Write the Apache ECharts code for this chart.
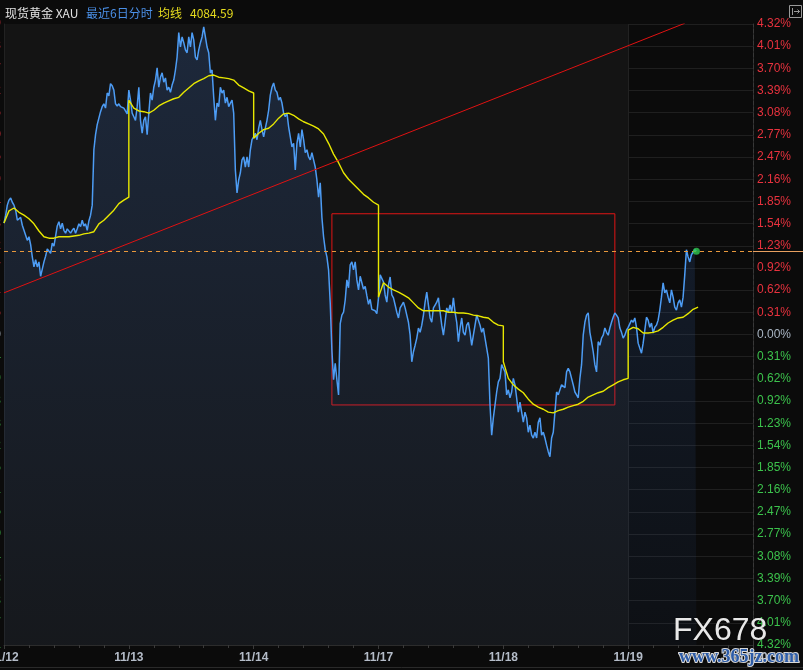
<!DOCTYPE html>
<html>
<head>
<meta charset="utf-8">
<script src="https://cdn.jsdelivr.net/npm/echarts@6.0.0/dist/echarts.min.js"></script>
<style>
html,body{margin:0;padding:0;background:#0b0b0b;overflow:hidden;}
#chart{width:803px;height:670px;}
</style>
</head>
<body>
<div id="chart"></div>
<script>
// ---------------- data ----------------
const dayLabels = ['11/12','11/13','11/14','11/17','11/18','11/19','11/20'];
const yTickLabels = ['4.32%','4.01%','3.70%','3.39%','3.08%','2.77%','2.47%','2.16%','1.85%','1.54%','1.23%','0.92%','0.62%','0.31%','0.00%','0.31%','0.62%','0.92%','1.23%','1.54%','1.85%','2.16%','2.47%','2.77%','3.08%','3.39%','3.70%','4.01%','4.32%'];
const basePrice = 4069.1;
const avgLastValue = '4084.59';
const titleName = '现货黄金 XAU';
const titlePeriod = '最近6日分时';
const titleAvg = '均线';

// percent change vs base, per day (minute line, sampled)
const price1112 = [1.55,1.66,1.80,1.87,1.90,1.84,1.80,1.73,1.59,1.57,
 1.63,1.52,1.45,1.38,1.31,1.36,1.25,1.08,0.94,1.04,
 0.94,1.01,0.81,0.91,1.01,1.09,1.19,1.18,1.13,1.27,
 1.23,1.37,1.51,1.57,1.47,1.55,1.45,1.41,1.47,1.48,
 1.41,1.45,1.48,1.41,1.47,1.54,1.50,1.59,1.51,1.54,
 1.45,1.58,1.66,1.80,2.57,2.78,2.92,3.01,3.10,3.17,
 3.21,3.15,3.36,3.32,3.49,3.46,3.40,3.21,3.18,3.21,
 3.17,3.19,3.15,3.15,3.07];
const price1113 = [3.40,3.26,3.08,3.03,2.98,3.17,3.44,2.98,2.80,2.98,
 3.03,2.78,3.08,3.36,3.26,3.44,3.54,3.71,3.44,3.58,
 3.64,3.51,3.57,3.40,3.44,3.37,3.47,3.54,3.68,3.86,
 4.20,4.00,4.14,4.06,3.96,3.92,4.14,4.00,4.20,4.10,
 3.86,3.82,3.96,4.06,4.14,4.28,4.14,4.00,3.92,3.64,
 3.68,3.30,2.98,3.22,3.17,3.44,3.36,3.40,3.22,3.30,
 3.17,3.22,3.26,3.08,2.29,1.97,2.15,2.25,2.43,2.47,
 2.33,2.47,2.33,2.57,2.71];
const price1114 = [2.75,2.80,2.71,2.87,2.98,2.85,2.75,2.87,2.98,3.12,
 3.33,3.44,3.50,3.40,3.37,3.26,3.30,3.22,3.08,3.03,
 3.08,2.89,2.75,2.61,2.66,2.29,2.66,2.80,2.61,2.85,
 2.71,2.53,2.57,2.47,2.43,2.53,2.43,2.33,2.15,1.91,
 2.11,1.63,1.36,1.18,1.08,0.90,0.44,-0.22,-0.63,-0.40,
 -0.63,-0.84,0.15,0.27,0.31,0.48,0.76,0.65,0.97,1.01,
 0.90,1.01,0.76,0.62,0.81,0.79,0.63,0.67,0.54,0.42,
 0.49,0.35,0.35,0.33,0.29];
const price1117 = [0.51,0.83,0.83,0.73,0.55,0.45,0.69,0.80,0.55,0.51,
 0.41,0.31,0.23,0.37,0.41,0.45,0.37,0.27,0.17,-0.01,
 -0.38,-0.24,-0.15,-0.05,0.09,0.03,0.13,0.27,0.45,0.59,
 0.41,0.23,0.17,0.37,0.41,0.45,0.51,0.31,0.13,-0.01,
 0.17,0.37,0.31,0.41,0.31,0.51,0.31,0.17,-0.10,0.09,
 0.23,0.03,-0.01,0.13,0.17,0.03,-0.15,-0.01,0.13,0.27,
 0.20,0.13,0.03,0.09,-0.05,-0.19,-0.33,-0.98,-1.40,-1.16,
 -1.16,-0.80,-0.66,-0.61,-0.42];
const price1118 = [-0.47,-0.52,-0.84,-0.77,-0.88,-0.80,-0.61,-0.70,-0.88,-1.08,
 -0.94,-1.08,-1.22,-1.08,-1.16,-1.36,-1.26,-1.40,-1.44,-1.36,
 -1.44,-1.22,-1.16,-1.40,-1.36,-1.44,-1.54,-1.63,-1.70,-1.44,
 -1.36,-1.08,-0.80,-0.84,-0.84,-0.70,-0.70,-0.74,-0.52,-0.47,
 -0.52,-0.61,-0.70,-0.80,-0.84,-0.88,-0.61,-0.42,-0.01,0.17,
 0.27,0.30,0.03,-0.10,-0.24,-0.42,-0.52,-0.10,-0.15,-0.05,
 -0.01,0.09,0.03,-0.01,0.09,0.17,0.24,0.30,0.27,0.23,
 0.09,0.03,-0.05,-0.01,0.06];
const price1119 = [0.10,0.09,0.20,0.17,0.23,0.10,-0.12,-0.10,-0.26,-0.12,
 0.06,0.24,0.20,0.10,0.16,0.02,0.10,0.13,0.20,0.34,
 0.52,0.72,0.58,0.62,0.52,0.44,0.62,0.52,0.38,0.34,
 0.44,0.48,0.38,0.52,0.83,1.18,1.08,1.01,1.11,1.13,
 1.18,1.16];

// daily average line (percent), sampled every 3 minute-slots
const avg1112 = [1.55,1.72,1.76,1.70,1.66,1.61,1.54,1.44,1.36,1.34,1.34,1.36,1.36,1.36,1.37,1.38,1.40,1.41,1.43,1.54,1.59,1.66,1.73,1.82,1.87,1.91];
const avg1113 = [3.26,3.15,3.11,3.10,3.08,3.12,3.18,3.22,3.25,3.28,3.30,3.37,3.43,3.49,3.53,3.56,3.60,3.61,3.58,3.57,3.56,3.54,3.47,3.43,3.39,3.36];
const avg1114 = [2.73,2.80,2.85,2.87,2.93,3.01,3.07,3.08,3.05,3.00,2.96,2.93,2.90,2.86,2.79,2.66,2.51,2.39,2.25,2.16,2.09,2.02,1.95,1.90,1.84,1.80];
const avg1117 = [0.52,0.72,0.66,0.62,0.59,0.55,0.51,0.44,0.37,0.33,0.33,0.33,0.33,0.33,0.31,0.31,0.30,0.30,0.29,0.27,0.26,0.24,0.23,0.17,0.13,0.12];
const avg1118 = [-0.38,-0.61,-0.70,-0.76,-0.81,-0.90,-0.97,-1.01,-1.04,-1.08,-1.09,-1.06,-1.04,-1.01,-0.99,-0.97,-0.93,-0.87,-0.84,-0.81,-0.79,-0.74,-0.70,-0.66,-0.63,-0.61];
const avg1119 = [0.06,0.10,0.08,0.02,0.02,0.03,0.05,0.10,0.16,0.20,0.23,0.24,0.29,0.35,0.38];

// drawn annotations, in data units [slot, percent]
const trendLine = [[0,0.58],[409,4.33]];
const boxArea = [[197,1.68],[367,-0.98]];

// ---------------- build ----------------
const POINTS_PER_DAY = 75;
const AVG_STEP = 3;
const priceDays = [price1112, price1113, price1114, price1117, price1118, price1119];
const avgDays = [avg1112, avg1113, avg1114, avg1117, avg1118, avg1119];
const blueData = [];
priceDays.forEach((arr, d) => arr.forEach((v, i) => blueData.push([d * POINTS_PER_DAY + i, v])));
const avgData = [];
avgDays.forEach((arr, d) => arr.forEach((v, i) => avgData.push([d * POINTS_PER_DAY + i * AVG_STEP, v])));
const lastPoint = blueData[blueData.length - 1];

const Y_MAX = 4.32, Y_MIN = -4.32, Y_STEP = 4.32 / 14;
const X_MAX = POINTS_PER_DAY * (dayLabels.length - 1);
const CUR_DAY_START = POINTS_PER_DAY * (dayLabels.length - 2);

function tickIdx(v) { return Math.round((Number(v) - Y_MIN) / Y_STEP); }
function tickColor(v) { const k = tickIdx(v); return k > 14 ? '#e8323e' : (k < 14 ? '#3cc24c' : '#aab6c4'); }

const chart = echarts.init(document.getElementById('chart'), null, {width: 803, height: 670});

const option = {
  animation: false,
  backgroundColor: '#0b0b0b',
  grid: {left: 4, right: 50, top: 24, bottom: 25, containLabel: false, outerBoundsMode: 'none'},
  xAxis: {
    type: 'value', min: 0, max: X_MAX, interval: POINTS_PER_DAY, z: 1,
    axisLine: {show: true, onZero: false, lineStyle: {color: '#2c2c2c'}},
    axisTick: {show: true, length: 4, lineStyle: {color: '#3a3a3a'}},
    minorTick: {show: true, splitNumber: 5, length: 3, lineStyle: {color: '#3a3a3a'}},
    splitLine: {show: true, lineStyle: {color: '#262626', width: 1}},
    minorSplitLine: {show: false},
    axisLabel: {
      show: true, showMinLabel: true, showMaxLabel: true, margin: 7,
      color: '#b4bcc8', fontSize: 12, fontWeight: 'bold', fontFamily: '"Liberation Sans", Arial, sans-serif',
      formatter: v => dayLabels[Math.round(v / POINTS_PER_DAY)]
    }
  },
  yAxis: [{
    type: 'value', position: 'right', min: Y_MIN, max: Y_MAX, interval: Y_STEP, z: 1,
    axisLine: {show: true, onZero: false, lineStyle: {color: '#383838', type: 'dashed'}},
    axisTick: {show: false},
    splitLine: {show: true, lineStyle: {color: '#1f1f1f', width: 1}},
    axisLabel: {
      show: true, showMinLabel: true, showMaxLabel: true, margin: 4, fontSize: 12,
      fontFamily: '"Liberation Sans", Arial, sans-serif',
      color: v => tickColor(v),
      formatter: v => yTickLabels[tickIdx(v)]
    }
  }, {
    type: 'value', position: 'left', min: Y_MIN, max: Y_MAX, interval: Y_STEP, z: 1,
    axisLine: {show: true, onZero: false, lineStyle: {color: '#222'}},
    axisTick: {show: false},
    splitLine: {show: false},
    axisLabel: {
      show: true, margin: 3, fontSize: 12,
      fontFamily: '"Liberation Sans", Arial, sans-serif',
      color: v => tickColor(v),
      formatter: v => (basePrice * (1 + Number(v) / 100)).toFixed(2)
    }
  }],
  series: [
    {
      name: 'bg', type: 'line', z: 0, silent: true, data: [[0, 0]], showSymbol: false,
      lineStyle: {opacity: 0},
      markArea: {silent: true, itemStyle: {color: '#141414'}, label: {show: false},
        data: [[{xAxis: 0}, {xAxis: CUR_DAY_START}]]}
    },
    {
      name: 'price', type: 'line', z: 2, data: blueData, showSymbol: false, symbol: 'none',
      sampling: null, silent: true,
      lineStyle: {color: '#4d9cf4', width: 1.5},
      areaStyle: {origin: 'start', color: new echarts.graphic.LinearGradient(0, 0, 0, 1, [
        {offset: 0, color: 'rgba(55,100,175,0.36)'},
        {offset: 1, color: 'rgba(55,100,175,0.08)'}
      ])}
    },
    {
      name: 'avg', type: 'line', z: 3, data: avgData, showSymbol: false, symbol: 'none', silent: true,
      lineStyle: {color: '#e8e800', width: 1.4}
    },
    {
      name: 'trend', type: 'line', z: 4, data: trendLine, showSymbol: false, symbol: 'none', silent: true,
      lineStyle: {color: '#e01212', width: 1},
      markArea: {silent: true, label: {show: false},
        itemStyle: {color: 'rgba(0,0,0,0)', borderColor: '#e01515', borderWidth: 1},
        data: [[{coord: boxArea[0]}, {coord: boxArea[1]}]]}
    },
    {
      name: 'last', type: 'scatter', z: 6, data: [lastPoint], symbolSize: 7, silent: true,
      itemStyle: {color: '#30c850'}
    }
  ]
};
chart.setOption(option);

const xLeft = chart.convertToPixel({xAxisIndex: 0}, 0);
const xRight = chart.convertToPixel({xAxisIndex: 0}, X_MAX);
const yLast = Math.round(chart.convertToPixel({yAxisIndex: 0}, lastPoint[1])) + 0.5;

chart.setOption({
  graphic: [
    {type: 'text', id: 't1', x: 5, y: 13, z: 50, style: {text: titleName, fill: '#e2e2e2', font: '12px "Noto Sans CJK SC", sans-serif', verticalAlign: 'middle'}},
    {type: 'text', id: 't2', x: 86, y: 13, z: 50, style: {text: titlePeriod, fill: '#4a8fe6', font: '12px "Noto Sans CJK SC", sans-serif', verticalAlign: 'middle'}},
    {type: 'text', id: 't3', x: 158, y: 13, z: 50, style: {text: titleAvg, fill: '#e6dc1e', font: '12px "Noto Sans CJK SC", sans-serif', verticalAlign: 'middle'}},
    {type: 'text', id: 't4', x: 190, y: 13, z: 50, style: {text: avgLastValue, fill: '#e6dc1e', font: '12px "Noto Sans CJK SC", sans-serif', verticalAlign: 'middle'}},
    {type: 'line', id: 'cur', z: 5, shape: {x1: xLeft, y1: yLast, x2: xRight, y2: yLast}, style: {stroke: '#e8983c', lineWidth: 1, lineDash: [4, 4]}},
    {type: 'line', id: 'ext', z: 50, shape: {x1: xRight, y1: yLast, x2: 803, y2: yLast}, style: {stroke: '#e8a060', lineWidth: 1}},
    {type: 'line', id: 'bot', z: 50, shape: {x1: 0, y1: 667.5, x2: 803, y2: 667.5}, style: {stroke: '#2a2a2a', lineWidth: 1}},
    {type: 'rect', id: 'ic', z: 50, shape: {x: 789.5, y: 5.5, width: 12, height: 12}, style: {fill: 'none', stroke: '#9a9a9a', lineWidth: 1}},
    {type: 'polyline', id: 'ic2', z: 50, shape: {points: [[792.5, 8], [792.5, 15]]}, style: {stroke: '#9a9a9a', lineWidth: 1, fill: 'none'}},
    {type: 'polyline', id: 'ic3', z: 50, shape: {points: [[794, 11.5], [799.5, 11.5]]}, style: {stroke: '#9a9a9a', lineWidth: 1, fill: 'none'}},
    {type: 'polyline', id: 'ic4', z: 50, shape: {points: [[797.5, 9.5], [799.5, 11.5], [797.5, 13.5]]}, style: {stroke: '#9a9a9a', lineWidth: 1, fill: 'none'}},
    {type: 'text', id: 'wm1', x: 673, y: 647, z: 60, style: {text: 'FX678', fill: '#e8e8e8', font: '32px "Liberation Sans", Arial, sans-serif', verticalAlign: 'bottom', textShadowColor: 'rgba(0,0,0,0.6)', textShadowBlur: 2}},
    {type: 'text', id: 'wm2', x: 679, y: 666, z: 61, style: {text: 'www.365jz.com', fill: '#2d5ca8', font: 'bold 18px "Liberation Serif", serif', verticalAlign: 'bottom', stroke: '#d8d8d8', lineWidth: 2}}
  ]
});
</script>
</body>
</html>
